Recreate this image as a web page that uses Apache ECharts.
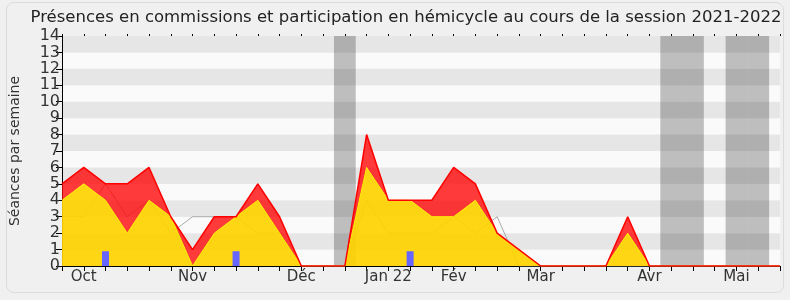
<!DOCTYPE html>
<html><head><meta charset="utf-8">
<script src="https://cdn.jsdelivr.net/npm/echarts@6/dist/echarts.min.js"></script>
<style>
html,body{margin:0;padding:0;background:#f0f0f0;}
#frame{position:absolute;left:6px;top:2px;width:776px;height:289px;border:1px solid #dcdcdc;border-radius:8px;}
#c{position:absolute;left:0;top:0;width:790px;height:300px;}
</style></head>
<body><div id="frame"></div><div id="c"></div>
<script>
// 34 weeks, index 0..33
const weeks = Array.from({length: 34}, (_, i) => String(i));
const monthLabelWeeks = [1, 6, 11, 15, 18, 22, 27, 31];
const monthLabelTexts = ['Oct', 'Nov', 'Déc', 'Jan 22', 'Fév', 'Mar', 'Avr', 'Mai'];
// participation en hémicycle (yellow)
const hemicycle = [4,5,4,2,4,3,0,2,3,4,2,0,0,0,6,4,4,3,3,4,2,1,0,0,0,0,2,0,0,0,0,0,0,0];
// présences en commission (red, stacked above yellow)
const commission = [1,1,1,3,2,0,1,1,0,1,1,0,0,0,2,0,0,1,3,1,0,0,0,0,0,0,1,0,0,0,0,0,0,0];
// médiane (gray line)
const mediane = [3,3,5,3,4,2,3,3,3,2,2,0,0,0,4,2,2,2,3,2,3,0,0,0,0,0,0,0,0,0,0,0,0,0];
// questions orales (blue bars)
const questionWeeks = [2, 8, 16];
const questionValues = [0.9, 0.9, 0.9];
// vacances (gray bands)
const vacanceWeeks = [13, 28, 29, 31, 32];

const font = 'DejaVu Sans';
const questions = weeks.map((w, i) => {
  const k = questionWeeks.indexOf(i);
  return k >= 0 ? questionValues[k] : null;
});
const chart = echarts.init(document.getElementById('c'));
chart.setOption({
  animation: false,
  backgroundColor: 'transparent',
  title: {
    text: 'Présences en commissions et participation en hémicycle au cours de la session 2021-2022',
    left: 401, top: 4, textAlign: 'center',
    textStyle: {fontFamily: font, fontSize: 16.5, fontWeight: 'normal', color: '#222'}
  },
  grid: {left: 61, right: 10, top: 36, bottom: 34},
  xAxis: [{
    type: 'category', data: weeks, boundaryGap: false,
    axisLine: {show: true, lineStyle: {color: '#000'}},
    axisTick: {show: true, length: 5, interval: 0, lineStyle: {color: '#000'}},
    axisLabel: {
      color: '#333', fontFamily: font, fontSize: 15, margin: 4, interval: 0,
      formatter: (v, idx) => { const i = monthLabelWeeks.indexOf(idx); return i >= 0 ? monthLabelTexts[i] : ''; }
    },
    splitLine: {show: false}
  }, {
    type: 'value', min: 0, max: 33, interval: 1, position: 'top',
    axisLine: {show: false},
    axisTick: {show: true, length: 2, lineStyle: {color: '#000'}},
    axisLabel: {show: false}, splitLine: {show: false}
  }],
  yAxis: {
    type: 'value', min: 0, max: 14, interval: 1,
    name: 'Séances par semaine', nameLocation: 'middle', nameGap: 40,
    nameTextStyle: {fontFamily: font, fontSize: 14, color: '#333'},
    axisLine: {show: true, lineStyle: {color: '#000'}},
    axisTick: {show: true, length: 6, lineStyle: {color: '#000'}},
    axisLabel: {color: '#333', fontFamily: font, fontSize: 16, margin: 2},
    splitLine: {show: false},
    splitArea: {show: true, areaStyle: {color: ['#FAFAFA', '#E6E6E6']}}
  },
  series: [
    {
      type: 'line', name: 'vacances', xAxisIndex: 1, data: [], silent: true,
      markArea: {
        silent: true,
        itemStyle: {color: 'rgba(0,0,0,0.24)'},
        data: vacanceWeeks.map(w => [{xAxis: w - 0.5}, {xAxis: w + 0.5}])
      }
    },
    {
      type: 'line', name: 'médiane', data: mediane,
      symbol: 'none', lineStyle: {color: '#aaaaaa', width: 1}, z: 2
    },
    {
      type: 'line', name: 'hémicycle', stack: 'p', data: hemicycle,
      symbol: 'none', lineStyle: {color: '#FFF000', width: 1},
      areaStyle: {color: 'rgb(255,210,0)', opacity: 0.92}, z: 3
    },
    {
      type: 'line', name: 'commission', stack: 'p', data: commission,
      symbol: 'none', lineStyle: {color: '#FF0000', width: 1.5},
      areaStyle: {color: 'rgb(255,0,0)', opacity: 0.77}, z: 3
    },
    {
      type: 'bar', name: 'questions', data: questions,
      barWidth: 7, itemStyle: {color: '#6666FF'}, z: 4
    }
  ]
});
</script></body></html>
